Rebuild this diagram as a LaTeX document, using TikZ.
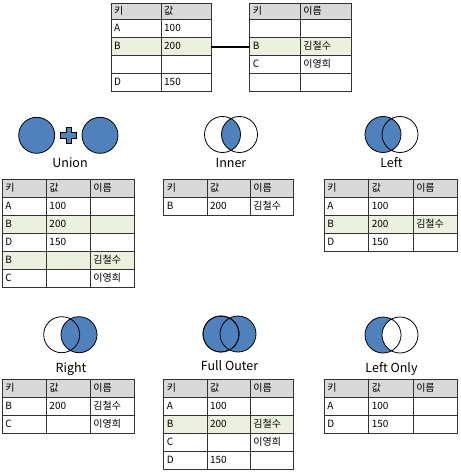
\documentclass[tikz,border=0pt]{standalone}
\usepackage{fontspec}
\setmainfont{Noto Sans CJK KR}
\usetikzlibrary{matrix,positioning}
\definecolor{vennblue}{HTML}{4F81BD}
\definecolor{headgray}{HTML}{D9D9D9}
\definecolor{rowgreen}{HTML}{EBF1DE}
\definecolor{gridline}{HTML}{333333}

\tikzset{
  jointable/.style={matrix of nodes, nodes in empty cells, anchor=north west,
    inner sep=0pt, outer sep=0pt, column sep=-0.9pt, row sep=-0.9pt,
    nodes={draw=gridline, line width=0.9pt, text width=#1, inner xsep=3pt, inner ysep=0pt,
      minimum height=18pt, text height=7.5pt, text depth=2pt, align=left,
      font=\fontsize{10}{12}\selectfont},
    row 1/.style={nodes={fill=headgray}}},
  venn/.style={draw=black, line width=0.8pt},
  vennlabel/.style={font=\fontsize{12.5}{14}\selectfont}
}

\begin{document}
\begin{tikzpicture}[x=1pt, y=-1pt]
    \useasboundingbox (0,0) rectangle (460,476);

    % Source tables
    \matrix (keyval) [jointable=44pt, row 1/.append style={nodes={minimum height=16pt}},
        row 3/.style={nodes={fill=rowgreen}}] at (110.7,3.3) {
        키 & 값 \\
        A & 100 \\
        B & 200 \\
          &     \\
        D & 150 \\
    };
    \matrix (keyname) [jointable=44.7pt, row 1/.append style={nodes={minimum height=16pt}},
        row 3/.style={nodes={fill=rowgreen}}] at (249.3,3.3) {
        키 & 이름 \\
          &      \\
        B & 김철수 \\
        C & 이영희 \\
          &      \\
    };

    % Join key link
    \draw[line width=2pt, black] (keyval-3-2.east) -- (keyname-3-1.west);

    % Union
    \draw[venn, fill=vennblue] (36.7,135.3) circle (18pt) (100,135.3) circle (18pt);
    \draw[venn, fill=vennblue, line width=0.7pt, shift={(68.7,135.5)}]
        (-2.8,-8) -- (2.8,-8) -- (2.8,-2.8) -- (8,-2.8) -- (8,2.8) -- (2.8,2.8)
        -- (2.8,8) -- (-2.8,8) -- (-2.8,2.8) -- (-8,2.8) -- (-8,-2.8) -- (-2.8,-2.8) -- cycle;
    \node[vennlabel] (unionlabel) at (70,163) {Union};
    \matrix (union) [jointable=38pt, row 3/.style={nodes={fill=rowgreen}},
        row 5/.style={nodes={fill=rowgreen}}] at (2,179.3) {
        키 & 값 & 이름 \\
        A & 100 & \\
        B & 200 & \\
        D & 150 & \\
        B &     & 김철수 \\
        C &     & 이영희 \\
    };

    % Inner
    \begin{scope}
        \clip (222.5,134.5) circle (18pt);
        \fill[vennblue] (239.5,134.5) circle (18pt);
    \end{scope}
    \draw[venn] (222.5,134.5) circle (18pt) (239.5,134.5) circle (18pt);
    \node[vennlabel] (innerlabel) at (231,163) {Inner};
    \matrix (inner) [jointable=37.3pt] at (163.3,179.3) {
        키 & 값 & 이름 \\
        B & 200 & 김철수 \\
    };

    % Left
    \fill[vennblue] (383,134.5) circle (18pt);
    \draw[venn] (383,134.5) circle (18pt) (400,134.5) circle (18pt);
    \node[vennlabel] (leftlabel) at (391.5,163) {Left};
    \matrix (left) [jointable=38.4pt, row 3/.style={nodes={fill=rowgreen}}] at (324,179.3) {
        키 & 값 & 이름 \\
        A & 100 & \\
        B & 200 & 김철수 \\
        D & 150 & \\
    };

    % Right
    \fill[vennblue] (79,334.7) circle (18pt);
    \draw[venn] (61.7,334.7) circle (18pt) (79,334.7) circle (18pt);
    \node[vennlabel] (rightlabel) at (71,369) {Right};
    \matrix (right) [jointable=38pt] at (2,379.3) {
        키 & 값 & 이름 \\
        B & 200 & 김철수 \\
        C &     & 이영희 \\
    };

    % Full Outer
    \draw[venn, fill=vennblue] (221,334) circle (18pt) (238,334) circle (18pt);
    \draw[venn] (221,334) circle (18pt);
    \node[vennlabel] (outerlabel) at (229.5,366) {Full Outer};
    \matrix (outer) [jointable=37.3pt, row 3/.style={nodes={fill=rowgreen}}] at (163.3,379.3) {
        키 & 값 & 이름 \\
        A & 100 & \\
        B & 200 & 김철수 \\
        C &     & 이영희 \\
        D & 150 & \\
    };

    % Left Only
    \fill[vennblue] (383,335) circle (18pt);
    \fill[white] (400,335) circle (18pt);
    \draw[venn] (383,335) circle (18pt) (400,335) circle (18pt);
    \node[vennlabel] (leftonlylabel) at (391.5,369) {Left Only};
    \matrix (leftonly) [jointable=38.4pt] at (324,379.3) {
        키 & 값 & 이름 \\
        A & 100 & \\
        D & 150 & \\
    };
\end{tikzpicture}
\end{document}
